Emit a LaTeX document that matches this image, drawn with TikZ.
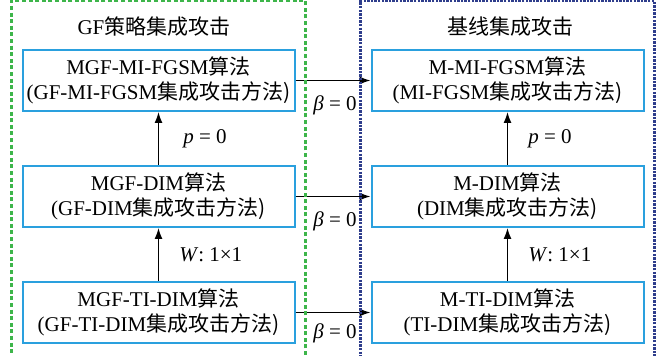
\documentclass[tikz,border=0pt]{standalone}
\usepackage{fontspec}
\setmainfont{Liberation Serif}
\newfontfamily\cjk{Noto Sans CJK SC}
\usepackage{xcolor}
\usepackage{tikz}
\usetikzlibrary{shapes,arrows,arrows.meta,positioning}
\usetikzlibrary{fit}
\usetikzlibrary{calc}
\definecolor{boxblue}{HTML}{2AA0DE}
\definecolor{gfgreen}{HTML}{3DB54A}
\definecolor{basenavy}{HTML}{2E3D8C}
\tikzstyle{algbox} = [rectangle, draw=boxblue, line width=1pt, fill=white,
    minimum width=136pt, minimum height=30.5pt, inner sep=0pt, align=center,
    font=\fontsize{10.5}{12.5}\selectfont]
\tikzstyle{line} = [draw, line width=0.75pt, -{Latex[length=5.5pt,width=4pt]}]
\tikzstyle{lbl} = [font=\fontsize{10.5}{12.5}\selectfont, inner sep=1pt]

\begin{document}
\begin{tikzpicture}[x=0.5pt, y=-0.5pt, node distance=26.5pt and 37.5pt]
        \useasboundingbox (0,0) rectangle (659,356);
        % GF side
        \node [algbox] (mgfmi) at (158.5,80.5) {MGF-MI-FGSM\cjk{算法}\\(GF-MI-FGSM\cjk{集成攻击方法})};
        \node [algbox, below=of mgfmi] (mgfdim) {MGF-DIM\cjk{算法}\\(GF-DIM\cjk{集成攻击方法})};
        \node [algbox, below=of mgfdim] (mgfti) {MGF-TI-DIM\cjk{算法}\\(GF-TI-DIM\cjk{集成攻击方法})};
        % Baseline side
        \node [algbox, right=of mgfmi] (mmi) {M-MI-FGSM\cjk{算法}\\(MI-FGSM\cjk{集成攻击方法})};
        \node [algbox, right=of mgfdim] (mdim) {M-DIM\cjk{算法}\\(DIM\cjk{集成攻击方法})};
        \node [algbox, right=of mgfti] (mti) {M-TI-DIM\cjk{算法}\\(TI-DIM\cjk{集成攻击方法})};
        % Titles
        \node [lbl] (gftitle) at (154,27) {GF\cjk{策略集成攻击}};
        \node [lbl] (basetitle) at (510,27) {\cjk{基线集成攻击}};

        % Connections
        \path [line] (mgfdim) -- node [lbl, right=11pt] (pgf) {\textit{p} = 0} (mgfmi);
        \path [line] (mgfti) -- node [lbl, right=9pt] (wgf) {\textit{W}: 1×1} (mgfdim);
        \path [line] (mdim) -- node [lbl, right=9pt] (pbase) {\textit{p} = 0} (mmi);
        \path [line] (mti) -- node [lbl, right=9pt] (wbase) {\textit{W}: 1×1} (mdim);
        \path [line] (mgfmi) -- node [lbl, below=6pt, xshift=1pt] (bmi) {\textit{β} = 0} (mmi);
        \path [line] (mgfdim) -- node [lbl, below=6pt, xshift=1pt] (bdim) {\textit{β} = 0} (mdim);
        \path [line] (mgfti) -- node [lbl, below=4pt, xshift=1pt] (bti) {\textit{β} = 0} (mti);

        % Group frames
        \node [draw=gfgreen, line width=1.3pt, dash pattern=on 2pt off 1.3pt,
            fit=(gftitle) (mgfmi) (mgfti), inner xsep=5pt, inner ysep=7pt] (gfframe) {};
        \node [draw=basenavy, line width=1.3pt, dash pattern=on 1.2pt off 0.6pt,
            fit=(basetitle) (mmi) (mti), inner xsep=5pt, inner ysep=7pt] (baseframe) {};
    \end{tikzpicture}
\end{document}
